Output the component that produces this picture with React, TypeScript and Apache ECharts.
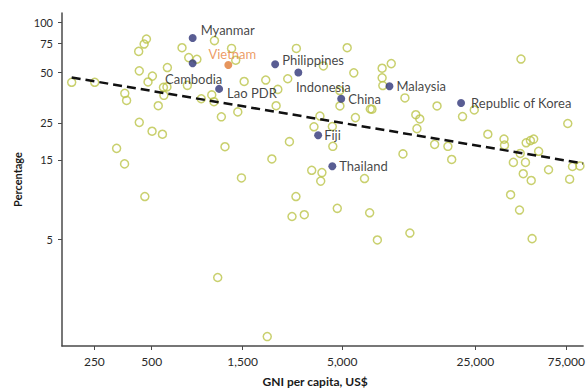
import React, { useEffect, useRef } from "react";
import * as echarts from "echarts";

// Tick labels
const xTicks = [250, 500, 1500, 5000, 25000, 75000];
const yTicks = [5, 15, 25, 50, 75, 100];

// Highlighted countries
const countries = ["Myanmar", "Vietnam", "Cambodia", "Lao PDR", "Philippines", "Indonesia", "China", "Fiji", "Thailand", "Malaysia", "Republic of Korea"];
const countryGNI = [820, 1262, 820, 1129, 2223, 2942, 4940, 3738, 4435, 8851, 21035];
const countryPct = [80.8, 55.6, 57.0, 40.0, 56.2, 50.2, 34.9, 21.1, 13.75, 41.5, 32.9];

// Other countries (hollow circles)
const otherGNI = [190, 251, 469, 456, 427, 721, 430, 504, 478, 604, 576, 601, 579, 361, 369, 541, 782, 863, 769, 430, 502, 569, 327, 360, 460, 1067, 1312, 1380, 1528, 1984, 2296, 2588, 2872, 3982, 5309, 5751, 4853, 7019, 4863, 5864, 3819, 3554, 4436, 1033, 1061, 910, 1160, 1415, 2249, 1212, 2641, 4463, 2136, 3458, 3912, 3856, 1479, 6546, 2858, 8100, 8100, 9045, 8169, 10670, 15730, 7161, 12170, 12770, 12340, 21410, 43400, 24670, 76400, 29070, 15280, 17940, 18780, 10420, 35340, 35550, 46200, 48640, 50600, 53720, 39590, 45810, 43000, 60560, 80900, 88500, 44600, 49110, 78150, 38280, 42630, 49640, 11330, 7648, 1110, 2020, 2725, 3161, 4710, 6966];
const otherPct = [43.8, 43.8, 79.6, 74.3, 67.1, 70.6, 51.3, 47.7, 44.0, 53.7, 40.9, 41.1, 36.6, 37.6, 34.1, 31.7, 61.6, 60.2, 42.0, 25.2, 22.3, 21.4, 17.6, 14.2, 9.05, 77.9, 69.9, 59.4, 44.3, 45.2, 39.7, 46.0, 69.9, 54.9, 70.6, 49.9, 39.1, 30.3, 31.6, 26.9, 27.5, 23.7, 23.8, 36.8, 33.5, 34.9, 27.2, 29.1, 31.7, 18.0, 19.3, 18.1, 15.2, 13.0, 12.6, 11.2, 11.7, 11.6, 9.05, 53.2, 46.6, 56.7, 41.9, 35.3, 31.6, 30.2, 28.0, 26.4, 23.1, 27.3, 60.4, 29.9, 24.8, 21.4, 18.6, 18.1, 15.1, 16.3, 20.0, 18.4, 19.0, 19.6, 20.0, 16.9, 14.5, 14.5, 16.4, 13.1, 13.7, 13.8, 12.4, 11.3, 11.5, 9.28, 7.51, 5.06, 5.47, 4.97, 2.96, 1.31, 6.87, 7.04, 7.69, 7.23];

// Trend line end points
const trendGNI = [190, 92000];
const trendPct = [46.8, 14.3];

// Axis ranges
const xRange = [169, 92000];
const yRange = [1.15, 114];

const labelPlace: Record<string, any> = {
  Myanmar: { position: "right", distance: 4, offset: [0, -8] },
  Vietnam: { position: "top", distance: 1, offset: [4, 0] },
  Cambodia: { position: "bottom", distance: 3, offset: [1, 2] },
  "Lao PDR": { position: "right", distance: 4, offset: [0, 4] },
  Philippines: { position: "right", distance: 3, offset: [0, -4] },
  Indonesia: { position: "bottom", distance: 4, offset: [25, 0] },
  China: { position: "right", distance: 3 },
  Fiji: { position: "right", distance: 2 },
  Thailand: { position: "right", distance: 3 },
  Malaysia: { position: "right", distance: 3 },
  "Republic of Korea": { position: "right", distance: 6 },
};

const L = (v: number) => Math.log10(v);
const FONT = "Lato";

export default function App() {
  const ref = useRef<HTMLDivElement>(null);
  useEffect(() => {
    if (!ref.current) return;
    const chart = echarts.init(ref.current, undefined, { renderer: "svg" });
    const fmt = (v: number) => Math.round(Math.pow(10, v)).toLocaleString("en-US");
    const option: any = {
      animation: false,
      backgroundColor: "#ffffff",
      textStyle: { fontFamily: FONT },
      grid: { left: 62, top: 13, right: 0, bottom: 41 },
      xAxis: {
        type: "value",
        min: L(xRange[0]),
        max: L(xRange[1]),
        name: "GNI per capita, US$",
        nameLocation: "middle",
        nameGap: 29,
        nameTextStyle: { fontFamily: FONT, fontSize: 12, fontWeight: "bold", color: "#1a1a1a", padding: [0, 15, 0, 0] },
        axisLine: { show: true, onZero: false, lineStyle: { color: "#4a4a4a", width: 1.5 } },
        axisTick: { show: true, length: 4, customValues: xTicks.map(L), lineStyle: { color: "#4a4a4a" } },
        axisLabel: { customValues: xTicks.map(L), formatter: fmt, margin: 9, fontFamily: FONT, fontSize: 12, color: "#2a2a2a" },
        splitLine: { show: false },
      },
      yAxis: {
        type: "value",
        min: L(yRange[0]),
        max: L(yRange[1]),
        name: "Percentage",
        nameLocation: "middle",
        nameGap: 38,
        nameTextStyle: { fontFamily: FONT, fontSize: 11, fontWeight: "bold", color: "#1a1a1a" },
        axisLine: { show: true, onZero: false, lineStyle: { color: "#4a4a4a", width: 1.5 } },
        axisTick: { show: true, length: 4, customValues: yTicks.map(L), lineStyle: { color: "#4a4a4a" } },
        axisLabel: { customValues: yTicks.map(L), formatter: fmt, margin: 9, fontFamily: FONT, fontSize: 11, color: "#2a2a2a" },
        splitLine: { show: false },
      },
      series: [
        {
          type: "scatter",
          symbol: "circle",
          symbolSize: 8,
          itemStyle: { color: "rgba(255,255,255,0)", borderColor: "#bcc44a", borderWidth: 1.5 },
          data: otherGNI.map((g, i) => [L(g), L(otherPct[i])]),
          z: 2,
        },
        {
          type: "line",
          showSymbol: false,
          symbol: "none",
          lineStyle: { color: "#111", width: 2.5, type: [9, 5] },
          data: trendGNI.map((g, i) => [L(g), L(trendPct[i])]),
          z: 3,
        },
        {
          type: "scatter",
          symbol: "circle",
          symbolSize: 8,
          itemStyle: { color: "#2f3578" },
          data: countries.map((c, i) => {
            const isVN = c === "Vietnam";
            return {
              name: c,
              value: [L(countryGNI[i]), L(countryPct[i])],
              itemStyle: isVN ? { color: "#e07a35" } : undefined,
              label: {
                show: true,
                formatter: c,
                fontFamily: FONT,
                fontSize: 13,
                color: isVN ? "#e8843d" : "#111111",
                ...labelPlace[c],
              },
            };
          }),
          z: 4,
        },
      ],
    };
    chart.setOption(option);
    return () => chart.dispose();
  }, []);
  return <div ref={ref} style={{ position: "fixed", left: 0, top: 0, width: 588, height: 392 }} />;
}
